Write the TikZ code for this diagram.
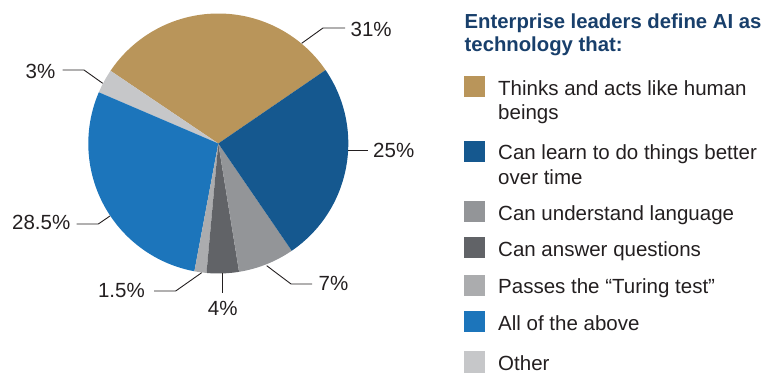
\documentclass[tikz,border=0pt]{standalone}
\usepackage{fontspec}
\setmainfont{Liberation Sans}
\definecolor{cgold}{HTML}{B9955A}
\definecolor{cdblue}{HTML}{15588F}
\definecolor{cgray}{HTML}{939598}
\definecolor{cdgray}{HTML}{616367}
\definecolor{clgray}{HTML}{ABACAE}
\definecolor{cblue}{HTML}{1C75BB}
\definecolor{cother}{HTML}{C6C7C9}
\definecolor{chead}{HTML}{183F6B}
\definecolor{ctext}{HTML}{231F20}
\begin{document}
\begin{tikzpicture}[x=1pt,y=1pt,
  txt/.style={inner sep=0pt, text=ctext, font=\fontsize{20.5}{24.5}\selectfont},
  legtxt/.style={txt, anchor=base west, align=left},
  sw/.style={minimum size=21pt, inner sep=0pt, draw=none},
  leader/.style={draw=ctext, line width=0.9pt}]
\useasboundingbox (0,0) rectangle (766,375);
\coordinate (c) at (218.3,231.5);
\def\R{130}
% pie slices
\fill[cgold]  (c) -- ++(34.4:\R)  arc[start angle=34.4,  end angle=146.0, radius=\R] -- cycle;
\fill[cother] (c) -- ++(146.0:\R) arc[start angle=146.0, end angle=156.8, radius=\R] -- cycle;
\fill[cblue]  (c) -- ++(156.8:\R) arc[start angle=156.8, end angle=259.4, radius=\R] -- cycle;
\fill[clgray] (c) -- ++(259.4:\R) arc[start angle=259.4, end angle=264.8, radius=\R] -- cycle;
\fill[cdgray] (c) -- ++(264.8:\R) arc[start angle=264.8, end angle=279.2, radius=\R] -- cycle;
\fill[cgray]  (c) -- ++(279.2:\R) arc[start angle=279.2, end angle=304.4, radius=\R] -- cycle;
\fill[cdblue] (c) -- ++(304.4:\R) arc[start angle=304.4, end angle=394.4, radius=\R] -- cycle;
% labels
\node[txt, anchor=base west] (l31) at (350.5,338.3) {31\%};
\node[txt, anchor=base west] (l25) at (373,217) {25\%};
\node[txt, anchor=base west] (l7) at (318.5,84) {7\%};
\node[txt, anchor=base] (l4) at (222.7,59) {4\%};
\node[txt, anchor=base east] (l15) at (145,77) {1.5\%};
\node[txt, anchor=base east] (l285) at (70.5,145) {28.5\%};
\node[txt, anchor=base east] (l3) at (55.5,296) {3\%};
% leader points
\coordinate (a31) at (301.7,331.7); \coordinate (b31) at (323,347); \coordinate (e31) at (345,347);
\coordinate (a25) at (348,225); \coordinate (e25) at (368,225);
\coordinate (a7) at (266.7,109.3); \coordinate (b7) at (291,91); \coordinate (e7) at (312,91);
\coordinate (a4) at (222.7,102); \coordinate (e4) at (222.7,82);
\coordinate (a15) at (201.7,102.3); \coordinate (b15) at (175.7,84); \coordinate (e15) at (154,84);
\coordinate (a285) at (110,159); \coordinate (b285) at (98.3,151); \coordinate (e285) at (76.7,151);
\coordinate (a3) at (102.7,291.7); \coordinate (b3) at (84,305); \coordinate (e3) at (62.7,305);
\draw[leader] (a31) -- (b31) -- (e31);
\draw[leader] (a25) -- (e25);
\draw[leader] (a7) -- (b7) -- (e7);
\draw[leader] (a4) -- (e4);
\draw[leader] (a15) -- (b15) -- (e15);
\draw[leader] (a285) -- (b285) -- (e285);
\draw[leader] (a3) -- (b3) -- (e3);
% heading (base anchor = baseline of last line)
\node[inner sep=0pt, anchor=base west, align=left, text=chead,
      font=\fontsize{20.3}{23.4}\selectfont\bfseries] (head) at (464.5,323.3)
      {Enterprise leaders define AI as\\technology that:};
% legend
\node[sw, fill=cgold]  (s1) at (474.5,288) {};
\node[sw, fill=cdblue] (s2) at (474.5,223.5) {};
\node[sw, fill=cgray]  (s3) at (474.5,163) {};
\node[sw, fill=cdgray] (s4) at (474.5,127) {};
\node[sw, fill=clgray] (s5) at (474.5,89.5) {};
\node[sw, fill=cblue]  (s6) at (474.5,53) {};
\node[sw, fill=cother] (s7) at (474.5,13) {};
\node[legtxt] (t1) at (498,255) {Thinks and acts like human\\beings};
\node[legtxt] (t2) at (498,190.5) {Can learn to do things better\\over time};
\node[legtxt] (t3) at (498,154.5) {Can understand language};
\node[legtxt] (t4) at (498,118.5) {Can answer questions};
\node[legtxt] (t5) at (498,81) {Passes the “Turing test”};
\node[legtxt] (t6) at (498,44.5) {All of the above};
\node[legtxt] (t7) at (498,4.5) {Other};
\end{tikzpicture}
\end{document}
